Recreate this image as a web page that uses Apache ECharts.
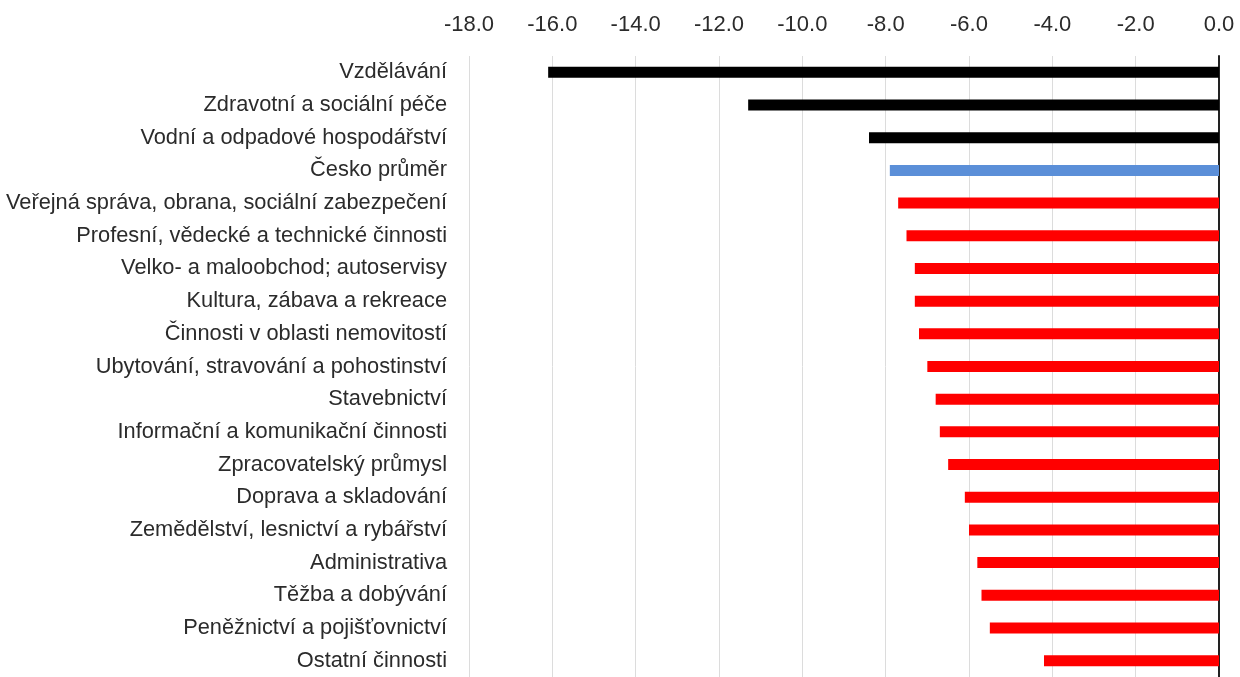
<!DOCTYPE html>
<html>
<head>
<meta charset="utf-8">
<script src="https://cdn.jsdelivr.net/npm/echarts@6/dist/echarts.min.js"></script>
<style>
  html, body { margin: 0; padding: 0; background: #fff; }
  #chart { width: 1240px; height: 677px; }
</style>
</head>
<body>
<div id="chart"></div>
<script>
// categories, top to bottom
const categories = [
  'Vzdělávání',
  'Zdravotní a sociální péče',
  'Vodní a odpadové hospodářství',
  'Česko průměr',
  'Veřejná správa, obrana, sociální zabezpečení',
  'Profesní, vědecké a technické činnosti',
  'Velko- a maloobchod; autoservisy',
  'Kultura, zábava a rekreace',
  'Činnosti v oblasti nemovitostí',
  'Ubytování, stravování a pohostinství',
  'Stavebnictví',
  'Informační a komunikační činnosti',
  'Zpracovatelský průmysl',
  'Doprava a skladování',
  'Zemědělství, lesnictví a rybářství',
  'Administrativa',
  'Těžba a dobývání',
  'Peněžnictví a pojišťovnictví',
  'Ostatní činnosti'
];

const values = [
  -16.1, -11.3, -8.4, -7.9, -7.7, -7.5, -7.3, -7.3, -7.2, -7.0,
  -6.8, -6.7, -6.5, -6.1, -6.0, -5.8, -5.7, -5.5, -4.2
];

// bar colour group: 'top' black, 'avg' blue, 'rest' red
const groups = [
  'top', 'top', 'top', 'avg', 'rest', 'rest', 'rest', 'rest', 'rest', 'rest',
  'rest', 'rest', 'rest', 'rest', 'rest', 'rest', 'rest', 'rest', 'rest'
];

const colors = { top: '#000000', avg: '#5b8fd8', rest: '#ff0000' };

const chart = echarts.init(document.getElementById('chart'));

const font = 'Liberation Sans';

chart.setOption({
  animation: false,
  grid: { left: 469, right: 21, top: 56, height: 628 },
  xAxis: {
    type: 'value',
    position: 'top',
    min: -18,
    max: 0,
    interval: 2,
    axisLine: { show: false },
    axisTick: { show: false },
    axisLabel: {
      color: '#2b2b2b',
      fontFamily: font,
      fontSize: 22,
      margin: 20,
      formatter: (v) => v.toFixed(1)
    },
    splitLine: { lineStyle: { color: '#dcdcdc', width: 1 } }
  },
  yAxis: [
    {
      type: 'category',
      data: categories,
      inverse: true,
      position: 'left',
      axisLine: { show: false, onZero: false },
      axisTick: { show: false },
      axisLabel: {
        color: '#2b2b2b',
        fontFamily: font,
        fontSize: 21.8,
        margin: 22,
        padding: [3, 0, 0, 0]
      }
    },
    {
      // zero line on the right
      type: 'category',
      data: categories,
      inverse: true,
      position: 'right',
      axisLine: { show: true, onZero: false, lineStyle: { color: '#222', width: 2 } },
      axisTick: { show: false },
      axisLabel: { show: false }
    }
  ],
  series: [{
    type: 'bar',
    data: values.map((v, i) => ({ value: v, itemStyle: { color: colors[groups[i]] } })),
    barWidth: 11
  }]
});
</script>
</body>
</html>
